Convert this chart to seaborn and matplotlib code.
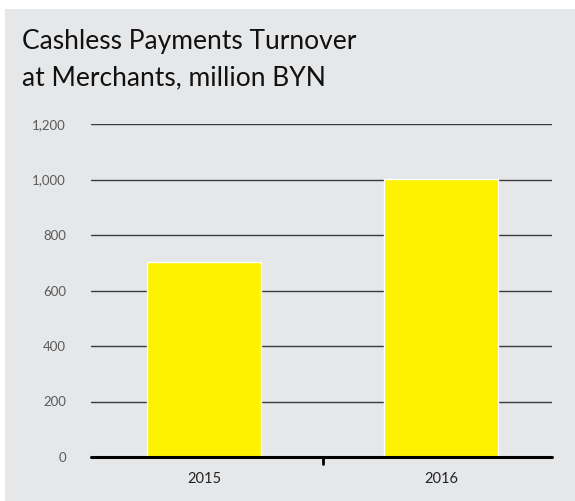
import matplotlib
matplotlib.use("Agg")
import matplotlib.pyplot as plt
import seaborn as sns
import pandas as pd
from matplotlib.patches import Rectangle

# data
years = ["2015", "2016"]
turnover = [703, 1002]
yticks = [0, 200, 400, 600, 800, 1000, 1200]

df = pd.DataFrame({"year": years, "turnover": turnover})

sns.set_theme(style="white")
plt.rcParams["font.family"] = ["Lato", "DejaVu Sans"]

bg = "#e6e7e9"
fig = plt.figure(figsize=(5.75, 5.01), dpi=100, facecolor="white")
# gray panel with thin white margin top/left
fig.patches.append(Rectangle((5 / 575, 0), 1, 1 - 9 / 501, transform=fig.transFigure,
                             facecolor=bg, edgecolor="none", zorder=-10))

ax = fig.add_axes([91 / 575, 1 - 457 / 501, (552 - 91) / 575, (457 - 124) / 501])
ax.set_facecolor("none")

sns.barplot(data=df, x="year", y="turnover", color="#fff200", width=0.48,
            edgecolor="white", linewidth=1.0, saturation=1, ax=ax, zorder=3)

ax.set_ylim(0, 1200)
ax.set_xlim(-0.477, 1.468)
ax.set_yticks(yticks)
ax.set_yticklabels([f"{v:,}" for v in yticks])
for v in yticks[1:]:
    ax.axhline(v, color="#3a3a3a", lw=1.0, zorder=1)
ax.axhline(0, color="black", lw=2.2, zorder=4, clip_on=False)

for s in ax.spines.values():
    s.set_visible(False)

ax.set_xlabel("")
ax.set_ylabel("")
ax.tick_params(axis="y", length=0, pad=18, labelsize=9.5, labelcolor="#5a5a5a")
ax.tick_params(axis="x", length=0, pad=11, labelsize=10.5, labelcolor="#222222")
# category separator tick below the axis
ax.plot([0.5, 0.5], [0, -0.022], transform=ax.get_xaxis_transform(),
        color="black", lw=2, clip_on=False, zorder=5)

fig.text(22 / 575, 1 - 29 / 501, "Cashless Payments Turnover\nat Merchants, million BYN",
         fontsize=19, color="#111111", va="top", ha="left", linespacing=1.55)

fig.savefig("out.png", dpi=100, facecolor="white")
